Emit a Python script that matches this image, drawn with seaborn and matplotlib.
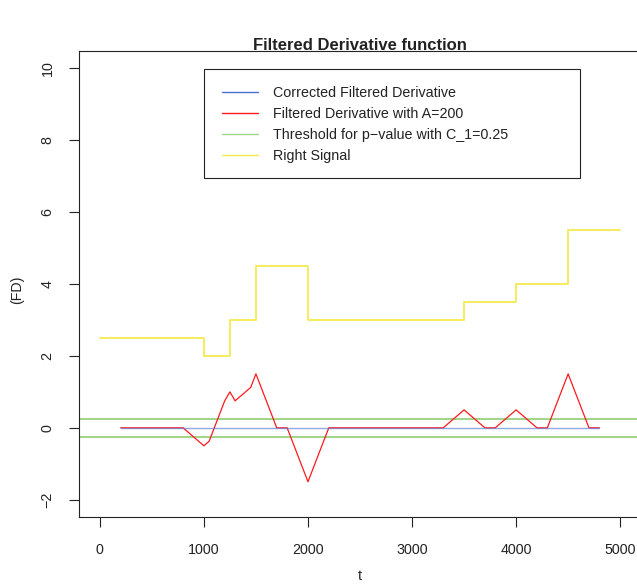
import numpy as np
import pandas as pd
import matplotlib
matplotlib.use("Agg")
import matplotlib.pyplot as plt
from matplotlib.lines import Line2D
from matplotlib.patches import Rectangle
import seaborn as sns

# Filtered derivative (window A=200), sampled at its breakpoints
fd_t = [200, 800, 1000, 1050, 1200, 1250, 1300, 1450, 1500, 1700, 1800,
        2000, 2200, 3300, 3500, 3700, 3800, 4000, 4200, 4300, 4500, 4700, 4800]
fd_val = [0, 0, -0.5, -0.375, 0.75, 1.0, 0.75, 1.125, 1.5, 0, 0,
          -1.5, 0, 0, 0.5, 0, 0, 0.5, 0, 0, 1.5, 0, 0]

# Corrected filtered derivative
cfd_t = [200, 4800]
cfd_val = [0, 0]

# Right (true) piecewise-constant signal
sig_t = [0, 1000, 1250, 1500, 2000, 3500, 4000, 4500, 5000]
sig_val = [2.5, 2.0, 3.0, 4.5, 3.0, 3.5, 4.0, 5.5, 5.5]

threshold = 0.25

x_ticks = [0, 1000, 2000, 3000, 4000, 5000]
y_ticks = [-2, 0, 2, 4, 6, 8, 10]

legend_labels = ["Corrected Filtered Derivative",
                 "Filtered Derivative with A=200",
                 "Threshold for p\u2212value with C_1=0.25",
                 "Right Signal"]

col_blue = "#4a6fd3"
col_red = "#ff1a1a"
col_green = "#a2d68c"
col_yellow = "#f6ea4e"

sns.set_style("white")
plt.rcParams["font.family"] = ["Liberation Sans", "DejaVu Sans"]

FS = 10.3

W, H = 637, 588
fig = plt.figure(figsize=(W / 100, H / 100), dpi=100)
L, R, T, B = 79, 641, 51, 517
ax = fig.add_axes([L / W, 1 - B / H, (R - L) / W, (B - T) / H])

df_sig = pd.DataFrame({"t": sig_t, "v": sig_val})
df_fd = pd.DataFrame({"t": fd_t, "v": fd_val})
df_cfd = pd.DataFrame({"t": cfd_t, "v": cfd_val})

sns.lineplot(data=df_sig, x="t", y="v", ax=ax, color=col_yellow, lw=1.3,
             estimator=None, drawstyle="steps-post")
for s in (-1, 1):
    ax.axhline(s * threshold, color=col_green, lw=1.5)
sns.lineplot(data=df_fd, x="t", y="v", ax=ax, color=col_red, lw=0.9,
             estimator=None)
sns.lineplot(data=df_cfd, x="t", y="v", ax=ax, color=col_blue, lw=1.0,
             alpha=0.6, estimator=None)

ax.set_xlim(-200, 5200)
ax.set_ylim(-2.48, 10.48)
ax.set_xticks(x_ticks)
ax.set_yticks(y_ticks)
ax.set_xticklabels([str(v) for v in x_ticks])
ax.set_yticklabels([str(v).replace("-", "\u2212") for v in y_ticks],
                   rotation=90, va="center")
ax.tick_params(axis="both", direction="out", length=7, width=0.8,
               colors="#222222", labelsize=FS, bottom=True, left=True)
ax.tick_params(axis="x", pad=12)
ax.tick_params(axis="y", pad=10.5)
ax.set_xlabel("")
ax.set_ylabel("")
for sp in ax.spines.values():
    sp.set_visible(True)
    sp.set_color("#222222")
    sp.set_linewidth(0.8)

fig.text(360 / W, 1 - 45 / H, "Filtered Derivative function",
         ha="center", va="center", fontsize=12, fontweight="bold",
         color="#222222")
fig.text(360 / W, 1 - 576 / H, "t", ha="center", va="center",
         fontsize=FS, color="#222222")
fig.text(17 / W, 1 - 290 / H, "(FD)", ha="center", va="center",
         rotation=90, fontsize=FS, color="#222222")

# legend box and entries
fig.patches.append(Rectangle((204 / W, 1 - 178 / H), (580 - 204) / W,
                             (178 - 69) / H, transform=fig.transFigure,
                             fill=False, edgecolor="#222222", lw=0.8))
handles = [Line2D([], [], color=c, lw=1.0)
           for c in (col_blue, col_red, col_green, col_yellow)]
leg = fig.legend(handles, legend_labels, loc="upper left",
                 bbox_to_anchor=(222 / W, 1 - 86 / H),
                 frameon=False, fontsize=FS, borderpad=0, borderaxespad=0,
                 handlelength=2.5, handletextpad=1.05, labelspacing=0.5)
for txt in leg.get_texts():
    txt.set_color("#222222")

fig.savefig("out.png", dpi=100)
